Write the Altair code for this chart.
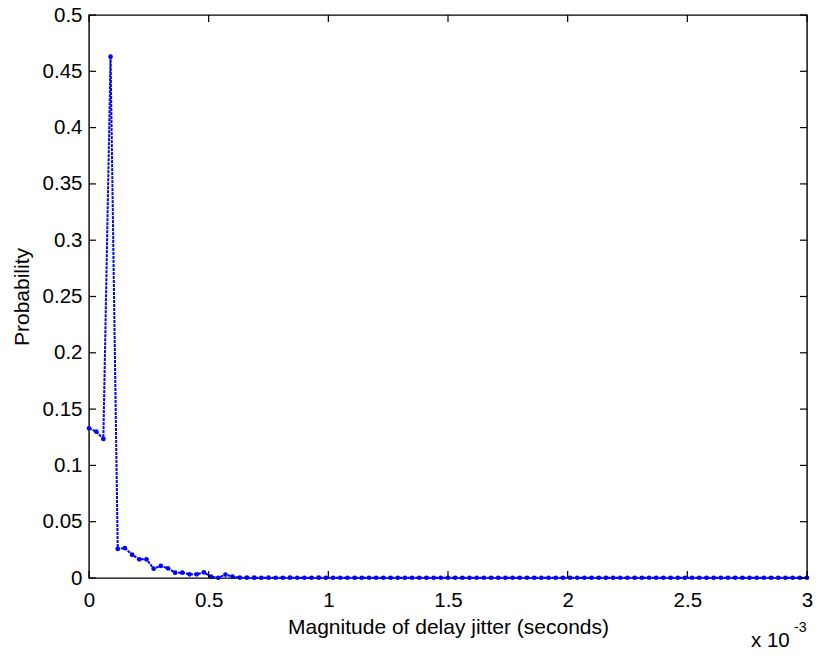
import altair as alt
import pandas as pd

# x in units of 1e-3 seconds
x_ms = [0.00, 0.03, 0.06, 0.09, 0.12, 0.15, 0.18, 0.21, 0.24, 0.27,
        0.30, 0.33, 0.36, 0.39, 0.42, 0.45, 0.48, 0.51, 0.54, 0.57,
        0.60, 0.63, 0.66, 0.69, 0.72, 0.75, 0.78, 0.81, 0.84, 0.87,
        0.90, 0.93, 0.96, 0.99, 1.02, 1.05, 1.08, 1.11, 1.14, 1.17,
        1.20, 1.23, 1.26, 1.29, 1.32, 1.35, 1.38, 1.41, 1.44, 1.47,
        1.50, 1.53, 1.56, 1.59, 1.62, 1.65, 1.68, 1.71, 1.74, 1.77,
        1.80, 1.83, 1.86, 1.89, 1.92, 1.95, 1.98, 2.01, 2.04, 2.07,
        2.10, 2.13, 2.16, 2.19, 2.22, 2.25, 2.28, 2.31, 2.34, 2.37,
        2.40, 2.43, 2.46, 2.49, 2.52, 2.55, 2.58, 2.61, 2.64, 2.67,
        2.70, 2.73, 2.76, 2.79, 2.82, 2.85, 2.88, 2.91, 2.94, 2.97,
        3.00]
prob = [0.133, 0.130, 0.1235, 0.463, 0.0258, 0.0266, 0.0207, 0.0166, 0.0166, 0.0083,
        0.0107, 0.0086, 0.0047, 0.0047, 0.0033, 0.0033, 0.0050, 0.0012, 0.0002, 0.0030,
        0.0012, 0.0004, 0.0003, 0.0003, 0.0002, 0.0003, 0.0002, 0.0002, 0.0003, 0.0002,
        0.0002, 0.0002, 0.0003, 0.0002, 0.0002, 0.0002, 0.0002, 0.0002, 0.0002, 0.0002,
        0.0002, 0.0002, 0.0002, 0.0002, 0.0002, 0.0002, 0.0002, 0.0002, 0.0002, 0.0002,
        0.0002, 0.0002, 0.0002, 0.0002, 0.0002, 0.0002, 0.0002, 0.0002, 0.0002, 0.0002,
        0.0002, 0.0002, 0.0002, 0.0002, 0.0002, 0.0002, 0.0002, 0.0002, 0.0002, 0.0002,
        0.0002, 0.0002, 0.0002, 0.0002, 0.0002, 0.0002, 0.0002, 0.0002, 0.0002, 0.0002,
        0.0002, 0.0002, 0.0002, 0.0002, 0.0002, 0.0002, 0.0002, 0.0002, 0.0002, 0.0002,
        0.0002, 0.0002, 0.0002, 0.0002, 0.0002, 0.0002, 0.0002, 0.0002, 0.0002, 0.0002,
        0.0002]

x_ticks = [0, 0.5, 1, 1.5, 2, 2.5, 3]
y_ticks = [0, 0.05, 0.1, 0.15, 0.2, 0.25, 0.3, 0.35, 0.4, 0.45, 0.5]

W, H = 718, 563
FONT = "Liberation Sans"
FS = 20.5
TFS = 21

df = pd.DataFrame({"x": x_ms, "p": prob})
dfx = pd.DataFrame({"xt": x_ticks})
dfy = pd.DataFrame({"yt": y_ticks})

xscale = alt.Scale(domain=[0, 3], nice=False, zero=False)
yscale = alt.Scale(domain=[0, 0.5], nice=False)

xaxis = alt.Axis(values=x_ticks, ticks=False, domain=False, grid=False,
                 labelFontSize=FS, labelFont=FONT, labelColor="black",
                 labelPadding=12, title="Magnitude of delay jitter (seconds)",
                 titleFontSize=TFS, titleFont=FONT, titleFontWeight="normal",
                 titleColor="black", titlePadding=6, labelFlush=False,
                 labelExpr="datum.value == 0 ? '0' : format(datum.value, '~g')")
yaxis = alt.Axis(values=y_ticks, ticks=False, domain=False, grid=False,
                 labelFontSize=FS, labelFont=FONT, labelColor="black",
                 labelPadding=7, title="Probability", titleFontSize=TFS,
                 titleFont=FONT, titleFontWeight="normal", titleColor="black",
                 titlePadding=10, labelFlush=False,
                 labelExpr="format(datum.value, '~g')")

line = alt.Chart(df).mark_line(color="#0000FF", strokeWidth=2, strokeDash=[3, 1]).encode(
    x=alt.X("x:Q", scale=xscale, axis=xaxis),
    y=alt.Y("p:Q", scale=yscale, axis=yaxis),
)
pts = alt.Chart(df).mark_point(color="#0000FF", filled=True, size=22, opacity=1).encode(
    x=alt.X("x:Q", scale=xscale),
    y=alt.Y("p:Q", scale=yscale),
)

tick_style = dict(color="black", strokeWidth=1.2)
xt_bottom = alt.Chart(dfx).mark_rule(**tick_style).encode(
    x=alt.X("xt:Q", scale=xscale), y=alt.value(H), y2=alt.value(H - 7))
xt_top = alt.Chart(dfx).mark_rule(**tick_style).encode(
    x=alt.X("xt:Q", scale=xscale), y=alt.value(0), y2=alt.value(7))
yt_left = alt.Chart(dfy).mark_rule(**tick_style).encode(
    y=alt.Y("yt:Q", scale=yscale), x=alt.value(0), x2=alt.value(7))
yt_right = alt.Chart(dfy).mark_rule(**tick_style).encode(
    y=alt.Y("yt:Q", scale=yscale), x=alt.value(W), x2=alt.value(W - 7))

mult = alt.Chart(pd.DataFrame({"t": ["x 10"]})).mark_text(
    font=FONT, fontSize=FS, align="left", baseline="alphabetic", color="black"
).encode(text="t:N", x=alt.value(662), y=alt.value(632))
expo = alt.Chart(pd.DataFrame({"t": ["-3"]})).mark_text(
    font=FONT, fontSize=14, align="left", baseline="alphabetic", color="black"
).encode(text="t:N", x=alt.value(705), y=alt.value(617))

chart = alt.layer(line, pts, xt_bottom, xt_top, yt_left, yt_right, mult, expo).properties(
    width=W, height=H,
    autosize=alt.AutoSizeParams(type="none"),
    padding={"left": 89, "top": 15, "right": 9, "bottom": 78},
    background="white",
).configure_view(stroke="black", strokeWidth=1.4)

chart.save("out.html", embed_options={"renderer": "svg", "actions": False})
